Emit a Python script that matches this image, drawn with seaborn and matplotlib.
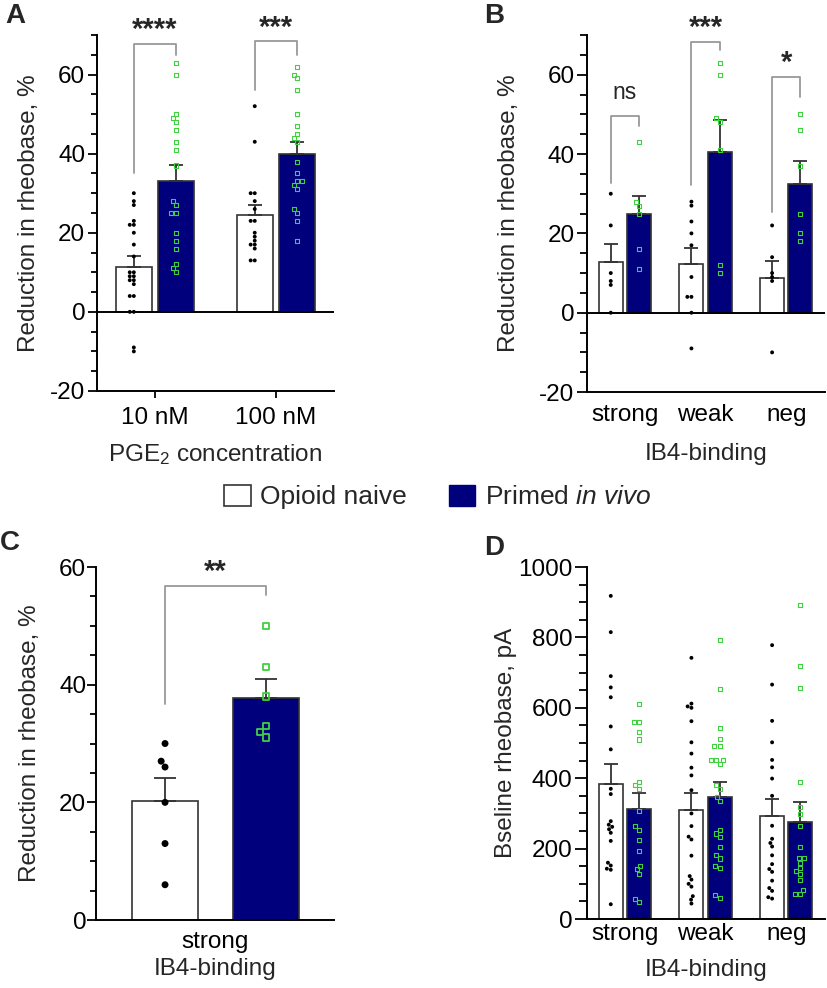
"""
PGE2-induced reduction in rheobase, opioid naive vs primed in vivo (panels A-D)
"""
import pandas as pd
import matplotlib
matplotlib.use('Agg')
import matplotlib.pyplot as plt
from matplotlib.patches import Patch
from matplotlib.container import BarContainer
from matplotlib.ticker import MultipleLocator
from matplotlib.transforms import Affine2D
import seaborn as sns

groups = ['Opioid naive', 'Primed in vivo']

# A: PGE2 concentration
a_cats = ['10 nM', '100 nM']
a_naive = [[30, 28, 27, 23, 22, 22, 20, 17, 14, 10, 10, 9, 9, 8, 8, 7, 4, 4, 0, 0, -9, -10],
           [52, 43, 30, 30, 28, 26, 23, 23, 20, 19, 18, 17, 17, 16, 13, 13]]
a_primed = [[63, 60, 50, 49, 48, 46, 43, 41, 37, 28, 27, 25, 25, 20, 18, 16, 12, 11, 10],
            [62, 60, 59, 56, 50, 47, 45, 44, 43, 38, 35, 33, 33, 32, 31, 26, 25, 23, 18]]
a_mean = [[11.4, 24.5], [33.1, 39.9]]
a_sem = [[2.7, 2.4], [3.9, 3.1]]

# B: IB4-binding
b_cats = ['strong', 'weak', 'neg']
b_naive = [[30, 22, 10, 8, 7, 0],
           [28, 27, 23, 20, 17, 9, 4, 4, 0, -9],
           [22, 14, 10, 9, 8, -10]]
b_primed = [[43, 28, 27, 25, 16, 11],
            [63, 60, 49, 48, 41, 12, 10],
            [50, 46, 37, 25, 20, 18]]
b_mean = [[12.9, 12.4, 8.8], [25.0, 40.4, 32.5]]
b_sem = [[4.5, 3.9, 4.3], [4.5, 8.1, 5.7]]

# C: strong IB4-binding only
c_cats = ['strong']
c_naive = [[30, 27, 26, 20, 13, 6]]
c_primed = [[50, 43, 38, 33, 32, 31]]
c_mean = [[20.3], [37.8]]
c_sem = [[3.8], [3.1]]

# D: baseline rheobase (pA)
d_cats = ['strong', 'weak', 'neg']
d_naive = [[918, 815, 690, 658, 630, 547, 482, 370, 355, 278, 268, 262, 255, 245, 222, 160, 152, 143, 140, 42],
           [742, 612, 604, 600, 562, 502, 470, 430, 408, 366, 300, 264, 234, 226, 180, 122, 112, 100, 92, 65, 55, 44],
           [778, 666, 563, 502, 452, 431, 399, 350, 265, 228, 216, 206, 181, 156, 142, 134, 109, 88, 80, 62, 58]]
d_primed = [[612, 560, 560, 532, 510, 390, 380, 370, 307, 263, 254, 224, 192, 151, 141, 128, 58, 48],
            [794, 654, 542, 512, 492, 492, 452, 452, 452, 441, 380, 370, 348, 336, 254, 243, 232, 204, 183, 172,
             152, 145, 69, 60],
            [893, 718, 655, 388, 317, 299, 264, 204, 174, 174, 160, 145, 137, 129, 110, 83, 71, 71]]
d_mean = [[384, 311, 294], [314, 348, 276]]
d_sem = [[56, 47, 47], [44, 41, 56]]

# significance brackets: (category, left leg end, top, right leg end, label, label y, weight, size)
a_brackets = [(0, 35, 67.6, 65, '****', 71.3, 'bold', 21), (1, 56, 68.4, 65, '***', 71.8, 'bold', 21)]
b_brackets = [(0, 32.8, 49.7, 47, 'ns', 55.5, 'normal', 16.5),
              (1, 32.3, 68.3, 66.3, '***', 71.8, 'bold', 21),
              (2, 25.5, 59.5, 54.5, '*', 63.0, 'bold', 21)]
c_brackets = [(0, 36.7, 56.8, 55.3, '**', 59.2, 'bold', 21)]

NAVY = '#00007d'
GREEN = '#3fd13f'
EDGE = '#333333'
BRACKET = '#999999'
FS = 17.5

sns.set_style('ticks')
plt.rcParams['font.family'] = ['Liberation Sans', 'DejaVu Sans']
plt.rcParams['mathtext.fontset'] = 'custom'
plt.rcParams['mathtext.rm'] = 'Liberation Sans'
plt.rcParams['mathtext.it'] = 'Liberation Sans:italic'
plt.rcParams['axes.unicode_minus'] = False
plt.rcParams['axes.edgecolor'] = 'black'
plt.rcParams['axes.linewidth'] = 1.4
plt.rcParams['xtick.color'] = 'black'
plt.rcParams['ytick.color'] = 'black'


def draw_panel(ax, cats, naive, primed, means, sems, brackets, bar_width, bar_gap,
               dot_size, sq_size, sq_lw, capsize):
    bar_df = pd.DataFrame({
        'cat': cats * 2,
        'group': [groups[0]] * len(cats) + [groups[1]] * len(cats),
        'mean': means[0] + means[1],
    })
    sns.barplot(data=bar_df, x='cat', y='mean', hue='group', order=cats, hue_order=groups,
                palette=['white', NAVY], saturation=1, width=bar_width, gap=bar_gap,
                errorbar=None, edgecolor=EDGE, linewidth=1.2, legend=False, ax=ax, zorder=2)
    bar_conts = [c for c in ax.containers if isinstance(c, BarContainer)]

    # one-sided SEM bars on top of each bar
    centers = {}
    for gi, cont in enumerate(bar_conts):
        for bar in cont:
            xc = bar.get_x() + bar.get_width() / 2
            ci = int(round(xc))
            centers[(gi, ci)] = xc
            ax.errorbar(xc, bar.get_height(), yerr=[[0], [sems[gi][ci]]], fmt='none',
                        ecolor=EDGE, elinewidth=1.3, capsize=capsize, capthick=1.3, zorder=3)

    pts = pd.DataFrame([(c, g, v)
                        for g, series in zip(groups, [naive, primed])
                        for c, vals in zip(cats, series)
                        for v in vals], columns=['cat', 'group', 'val'])
    # swarmplot always dodges by +-0.2; move the swarms onto the bar centers
    fix = 0.2 - bar_width / 4
    for gi, g in enumerate(groups):
        n0 = len(ax.collections)
        sns.swarmplot(data=pts[pts['group'] == g], x='cat', y='val', hue='group', order=cats,
                      hue_order=groups, dodge=True, palette=['black', GREEN],
                      marker='o' if gi == 0 else 's', size=dot_size if gi == 0 else sq_size,
                      linewidth=0, legend=False, ax=ax, zorder=4)
        shift = Affine2D().translate(fix if gi == 0 else -fix, 0)
        for coll in ax.collections[n0:]:
            coll.set_offset_transform(shift + ax.transData)
            if gi == 1:
                coll.set_facecolor('none')
                coll.set_edgecolor(GREEN)
                coll.set_linewidth(sq_lw)

    for ci, y_left, y_top, y_right, label, label_y, weight, fsize in brackets:
        x1, x2 = centers[(0, ci)], centers[(1, ci)]
        ax.plot([x1, x1, x2, x2], [y_left, y_top, y_top, y_right], color=BRACKET, lw=1.3,
                clip_on=False, zorder=1)
        ax.text((x1 + x2) / 2, label_y, label, ha='center', va='center', fontsize=fsize,
                fontweight=weight, clip_on=False)

    sns.despine(ax=ax)
    ax.set_xlabel('')
    ax.set_ylabel('')


fig = plt.figure(figsize=(8.28, 9.88), dpi=100)
ax_a = fig.add_axes([0.1171, 0.6043, 0.2862, 0.3603])
ax_b = fig.add_axes([0.7089, 0.6032, 0.2874, 0.3613])
ax_c = fig.add_axes([0.1159, 0.0688, 0.2874, 0.3573])
ax_d = fig.add_axes([0.7089, 0.0698, 0.2874, 0.3563])

draw_panel(ax_a, a_cats, a_naive, a_primed, a_mean, a_sem, a_brackets, 0.7, 0.15, 2.8, 2.9, 0.8, 5)
draw_panel(ax_b, b_cats, b_naive, b_primed, b_mean, b_sem, b_brackets, 0.7, 0.15, 2.8, 2.9, 0.8, 5)
draw_panel(ax_c, c_cats, c_naive, c_primed, c_mean, c_sem, c_brackets, 0.8, 0.345, 5, 4.6, 1.3, 8)
draw_panel(ax_d, d_cats, d_naive, d_primed, d_mean, d_sem, [], 0.7, 0.15, 2.8, 2.9, 0.8, 5)

# A
ax_a.set_xlim(-0.48, 1.48)
ax_a.set_ylim(-20, 70)
ax_a.axhline(0, color='black', lw=1.4, zorder=2.5)
ax_a.yaxis.set_major_locator(MultipleLocator(20))
ax_a.yaxis.set_minor_locator(MultipleLocator(5))
ax_a.tick_params(axis='y', which='major', length=6.5, width=1.3, pad=2, labelsize=FS)
ax_a.tick_params(axis='y', which='minor', length=4.5, width=1.3)
ax_a.tick_params(axis='x', length=5, width=1.3, pad=6.5, labelsize=FS)
ax_a.set_ylabel('Reduction in rheobase, %', fontsize=FS, labelpad=7)
ax_a.set_xlabel('PGE$_{\\mathregular{2}}$ concentration', fontsize=FS, labelpad=9.5)

# B
ax_b.set_xlim(-0.47, 2.48)
ax_b.set_ylim(-20, 70)
ax_b.axhline(0, color='black', lw=1.4, zorder=2.5)
ax_b.yaxis.set_major_locator(MultipleLocator(20))
ax_b.yaxis.set_minor_locator(MultipleLocator(5))
ax_b.tick_params(axis='y', which='major', length=7, width=1.3, pad=2, labelsize=FS)
ax_b.tick_params(axis='y', which='minor', length=5, width=1.3)
ax_b.tick_params(axis='x', length=0, pad=8.5, labelsize=FS)
ax_b.set_ylabel('Reduction in rheobase, %', fontsize=FS, labelpad=14)
ax_b.set_xlabel('IB4-binding', fontsize=FS, labelpad=12)

# C
ax_c.set_xlim(-0.474, 0.47)
ax_c.set_ylim(0, 60)
ax_c.yaxis.set_major_locator(MultipleLocator(20))
ax_c.yaxis.set_minor_locator(MultipleLocator(5))
ax_c.tick_params(axis='y', which='major', length=6.5, width=1.3, pad=0.5, labelsize=FS)
ax_c.tick_params(axis='y', which='minor', length=4.5, width=1.3)
ax_c.tick_params(axis='x', length=0, pad=7.8, labelsize=FS)
ax_c.set_ylabel('Reduction in rheobase, %', fontsize=FS, labelpad=13)
ax_c.set_xlabel('IB4-binding', fontsize=FS, labelpad=3.5)

# D
ax_d.set_xlim(-0.47, 2.48)
ax_d.set_ylim(0, 1000)
ax_d.yaxis.set_major_locator(MultipleLocator(200))
ax_d.yaxis.set_minor_locator(MultipleLocator(50))
ax_d.tick_params(axis='y', which='major', length=8.5, width=1.3, pad=2, labelsize=FS)
ax_d.tick_params(axis='y', which='minor', length=6, width=1.3)
ax_d.tick_params(axis='x', length=0, pad=2.5, labelsize=FS)
ax_d.set_ylabel('Bseline rheobase, pA', fontsize=FS, labelpad=1)
ax_d.set_xlabel('IB4-binding', fontsize=FS, labelpad=10.5)

# panel letters
for letter, x, y in [('A', 0.006, 1 - 16 / 988), ('B', 0.585, 1 - 16 / 988),
                     ('C', 0.0, 1 - 543 / 988), ('D', 0.585, 1 - 548 / 988)]:
    fig.text(x, y, letter, fontsize=20, fontweight='bold', va='center', ha='left')

handles = [Patch(facecolor='white', edgecolor=EDGE, linewidth=1.2),
           Patch(facecolor=NAVY, edgecolor=NAVY)]
fig.legend(handles, ['Opioid naive', 'Primed $\\it{in\\ vivo}$'], loc='center',
           bbox_to_anchor=(438 / 828, 1 - 497 / 988), ncol=2, frameon=False, fontsize=19,
           handlelength=1.0, handleheight=0.85, handletextpad=0.35, columnspacing=1.6)

fig.savefig('out.png', dpi=100)
